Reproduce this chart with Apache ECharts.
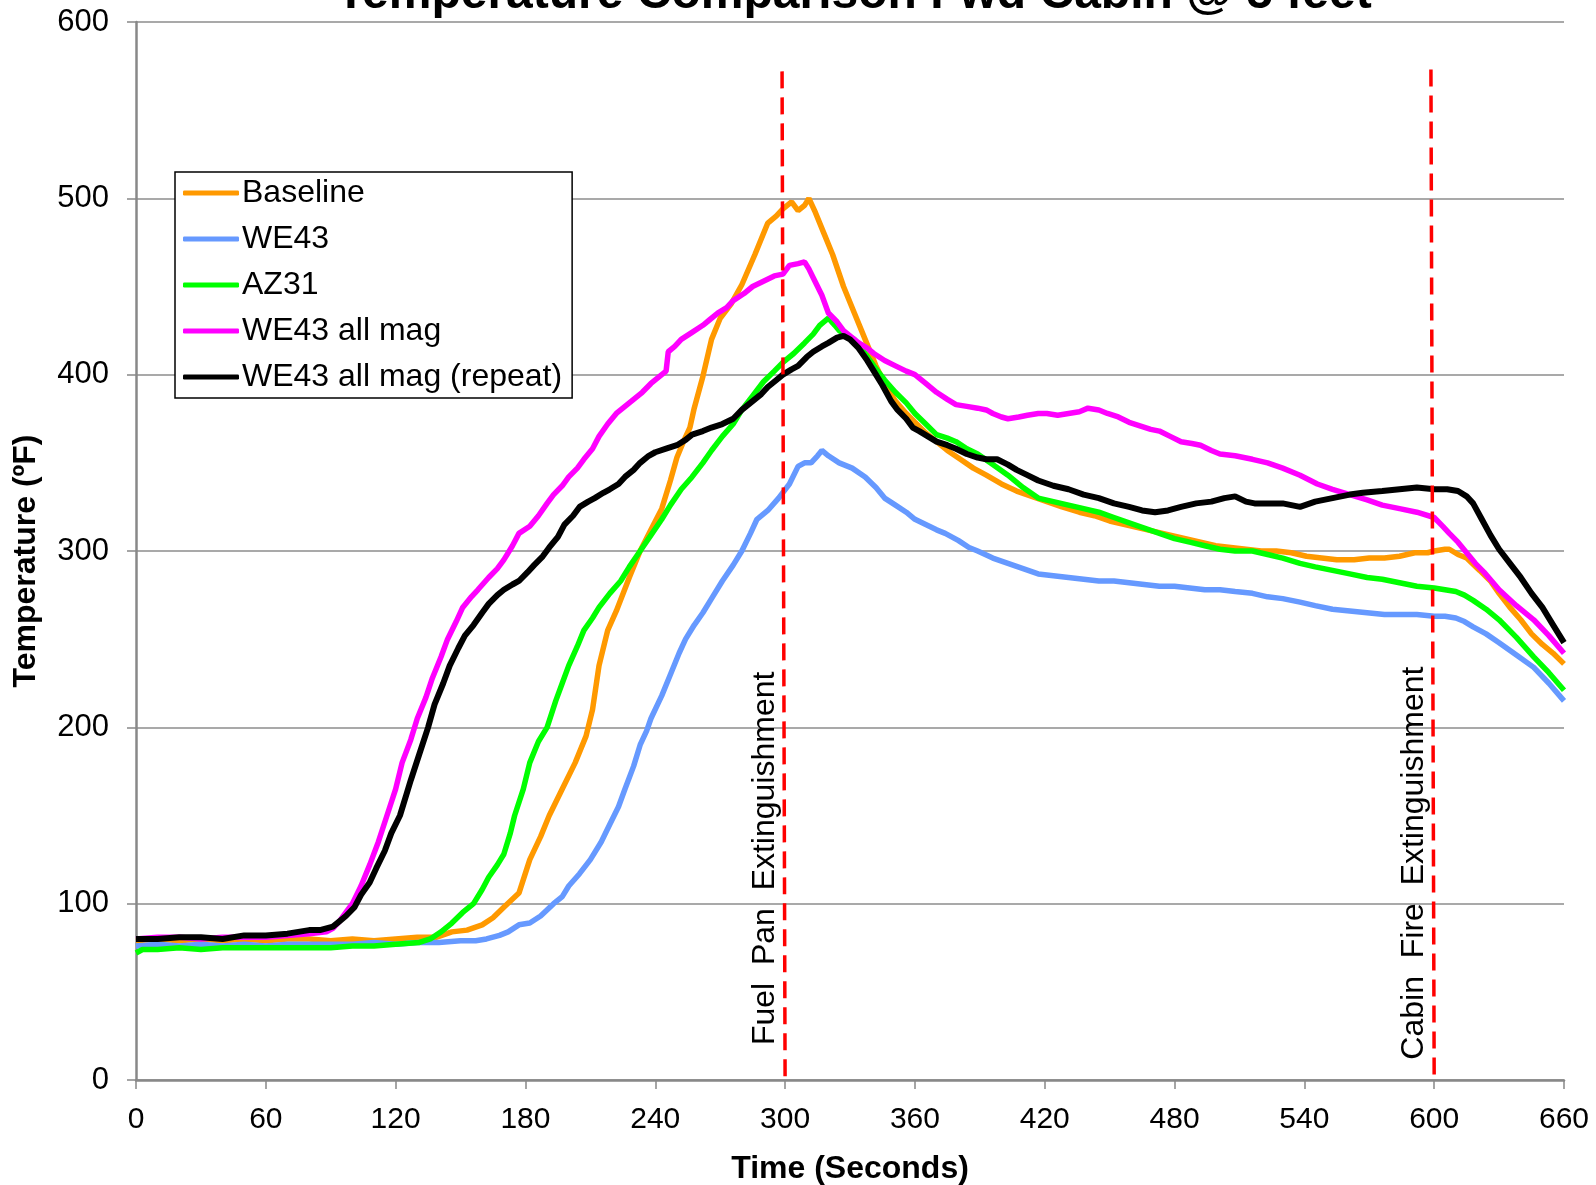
<!DOCTYPE html>
<html>
<head>
<meta charset="utf-8">
<script src="https://cdn.jsdelivr.net/npm/echarts@6/dist/echarts.min.js"></script>
<style>
  html, body { margin: 0; padding: 0; background: #fff; }
  #chart { width: 1596px; height: 1185px; }
</style>
</head>
<body>
<div id="chart"></div>
<script>
const FONT = '"Liberation Sans", Arial, sans-serif';

const seriesNames = ['Baseline', 'WE43', 'AZ31', 'WE43 all mag', 'WE43 all mag (repeat)'];
const seriesColors = ['#FF9900', '#6699FF', '#00FF00', '#FF00FF', '#000000'];

const timeTicks = { min: 0, max: 660, interval: 60 };
const tempTicks = { min: 0, max: 600, interval: 100 };

// [time (s), temperature (F)]
const baseline = [[0,79],[10,80],[20,79],[30,80],[40,79],[50,80],[60,79],[70,80],[80,80],[90,79],[100,80],[110,79],[120,80],[130,81],[139,81],[146,84],[153,85],[160,88],[165,92],[170,98],[177,106],[182,125],[187,138],[191,150],[197,165],[203,180],[208,195],[211,210],[214,235],[218,255],[222,266],[228,285],[233,300],[238,312],[243,324],[247,340],[250,353],[253,362],[256,370],[258,381],[262,399],[266,420],[270,432],[275,440],[280,451],[286,468],[292,486],[296,490],[299,494],[303,498],[306,493],[309,496],[311,500],[314,492],[318,480],[322,468],[327,450],[332,435],[337,420],[342,405],[346,395],[351,385],[356,378],[360,373],[365,367],[370,362],[375,357],[381,352],[387,347],[393,343],[400,338],[407,334],[414,331],[421,328],[428,325],[436,322],[443,320],[450,317],[457,315],[464,313],[471,311],[478,309],[485,307],[492,305],[499,303],[506,302],[513,301],[520,300],[527,300],[534,299],[541,297],[548,296],[555,295],[563,295],[570,296],[577,296],[584,297],[591,299],[597,299],[600,300],[605,301],[607,301],[611,298],[615,296],[621,289],[626,283],[630,276],[635,268],[640,261],[645,253],[650,247],[655,242],[660,236]];

const we43 = [[0,76],[10,77],[20,76],[30,77],[40,76],[50,77],[60,76],[70,77],[80,77],[90,77],[100,77],[110,78],[120,77],[130,78],[140,78],[150,79],[157,79],[162,80],[168,82],[172,84],[177,88],[182,89],[187,93],[193,100],[197,104],[200,110],[205,117],[210,125],[215,135],[219,145],[223,155],[226,165],[230,178],[233,190],[236,198],[238,205],[243,218],[247,230],[251,242],[254,250],[258,258],[262,265],[266,273],[271,283],[276,292],[280,300],[284,310],[287,318],[292,323],[297,330],[302,338],[306,348],[309,350],[312,350],[315,354],[317,357],[320,354],[325,350],[331,347],[337,342],[342,336],[346,330],[351,326],[356,322],[360,318],[365,315],[370,312],[374,310],[380,306],[385,302],[389,300],[396,296],[403,293],[410,290],[417,287],[424,286],[431,285],[438,284],[445,283],[452,283],[459,282],[466,281],[473,280],[480,280],[487,279],[494,278],[501,278],[508,277],[516,276],[523,274],[530,273],[538,271],[545,269],[553,267],[561,266],[569,265],[577,264],[584,264],[592,264],[600,263],[605,263],[610,262],[614,260],[618,257],[624,253],[630,248],[638,241],[646,234],[653,225],[660,215]];

const az31 = [[0,72],[3,74],[10,74],[20,75],[30,74],[40,75],[50,75],[60,75],[70,75],[80,75],[90,75],[100,76],[110,76],[120,77],[131,78],[136,80],[141,84],[146,89],[151,95],[156,100],[160,108],[163,115],[167,122],[170,128],[173,140],[175,150],[179,165],[182,180],[186,192],[190,200],[194,215],[197,225],[200,235],[204,246],[207,255],[211,262],[214,268],[219,276],[224,283],[228,291],[233,300],[238,309],[243,318],[247,326],[252,335],[257,342],[262,350],[266,357],[271,365],[276,372],[280,380],[285,388],[290,396],[295,402],[299,407],[304,412],[309,418],[313,423],[316,428],[320,432],[323,428],[325,425],[329,422],[332,420],[337,412],[341,405],[346,397],[351,390],[356,384],[360,378],[365,372],[370,366],[375,364],[379,362],[384,358],[389,355],[396,349],[403,343],[410,336],[417,330],[424,328],[431,326],[438,324],[445,322],[452,319],[459,316],[466,313],[473,310],[480,307],[487,305],[494,303],[501,301],[508,300],[516,300],[523,298],[530,296],[538,293],[545,291],[553,289],[561,287],[569,285],[576,284],[584,282],[592,280],[600,279],[605,278],[610,277],[614,275],[618,272],[624,267],[630,261],[638,251],[646,240],[653,231],[660,221]];

const we43AllMag = [[0,80],[10,81],[20,81],[30,80],[40,81],[50,81],[60,81],[70,82],[80,83],[88,84],[91,86],[94,90],[97,95],[100,100],[104,110],[108,122],[112,135],[116,150],[120,165],[123,180],[127,193],[130,205],[134,217],[137,228],[141,240],[144,250],[148,260],[151,268],[155,274],[158,278],[163,285],[167,290],[170,295],[174,303],[177,310],[182,314],[186,320],[190,327],[193,332],[197,337],[200,342],[204,347],[207,352],[211,358],[214,365],[218,372],[222,378],[226,382],[229,385],[234,390],[238,395],[242,399],[245,402],[246,413],[249,416],[252,420],[257,424],[262,428],[265,431],[269,435],[273,438],[276,442],[281,446],[285,450],[290,453],[295,456],[299,457],[302,462],[306,463],[309,464],[311,460],[313,455],[317,445],[320,435],[324,430],[327,425],[331,421],[334,418],[338,415],[341,412],[346,408],[351,405],[356,402],[360,400],[365,395],[370,390],[375,386],[379,383],[384,382],[389,381],[393,380],[396,378],[400,376],[403,375],[408,376],[412,377],[417,378],[421,378],[426,377],[431,378],[436,379],[440,381],[445,380],[449,378],[454,376],[459,373],[464,371],[469,369],[473,368],[478,365],[483,362],[488,361],[492,360],[497,357],[501,355],[508,354],[516,352],[523,350],[530,347],[538,343],[546,338],[553,335],[561,332],[569,329],[576,326],[584,324],[592,322],[600,319],[604,314],[607,310],[611,305],[615,299],[619,293],[623,288],[630,278],[638,269],[646,261],[653,252],[660,242]];

const we43AllMagRepeat = [[0,80],[10,80],[20,81],[30,81],[40,80],[50,82],[60,82],[70,83],[75,84],[80,85],[85,85],[91,87],[94,90],[97,93],[101,98],[104,105],[108,112],[111,120],[115,130],[118,140],[122,150],[125,162],[127,170],[131,185],[135,200],[138,213],[142,225],[145,235],[149,245],[152,252],[156,258],[160,265],[163,270],[167,275],[170,278],[174,281],[177,283],[181,288],[184,292],[188,297],[191,302],[195,308],[198,315],[202,320],[205,325],[209,328],[212,330],[216,333],[219,335],[223,338],[226,342],[230,346],[233,350],[237,354],[240,356],[245,358],[250,360],[254,363],[257,366],[262,368],[266,370],[271,372],[276,375],[280,380],[285,385],[289,389],[292,393],[296,397],[299,400],[303,403],[306,405],[310,410],[313,413],[317,416],[320,418],[324,421],[327,422],[330,420],[334,415],[338,408],[341,402],[345,394],[349,385],[352,380],[356,375],[359,370],[362,368],[366,365],[370,362],[375,360],[379,358],[384,355],[389,353],[393,352],[398,352],[403,349],[407,346],[412,343],[417,340],[424,337],[431,335],[438,332],[445,330],[452,327],[459,325],[465,323],[471,322],[477,323],[483,325],[490,327],[497,328],[503,330],[508,331],[513,328],[517,327],[523,327],[530,327],[538,325],[545,328],[553,330],[561,332],[567,333],[576,334],[584,335],[592,336],[600,335],[606,335],[611,334],[615,331],[618,327],[622,318],[626,309],[630,301],[635,293],[640,285],[645,276],[650,268],[655,258],[660,248]];

// red dashed event markers (top, bottom)
const fuelPanLine = [[298.6, 572], [300, 0]];
const cabinFireLine = [[598.5, 573], [600, 0]];
const eventLabels = [
  { text: 'Fuel  Pan  Extinguishment', at: [290.6, 125.7] },
  { text: 'Cabin  Fire  Extinguishment', at: [590.6, 123] }
];

const seriesData = [baseline, we43, az31, we43AllMag, we43AllMagRepeat];

const chart = echarts.init(document.getElementById('chart'));

const lineSeries = seriesData.map((d, i) => ({
  name: seriesNames[i],
  type: 'line',
  data: d,
  showSymbol: false,
  symbol: 'none',
  lineStyle: { color: seriesColors[i], width: i === 4 ? 6 : 5.5 },
  itemStyle: { color: seriesColors[i] },
  z: 2 + i
}));

const markerSeries = [fuelPanLine, cabinFireLine].map((d, i) => ({
  name: 'event' + i,
  type: 'line',
  data: d,
  symbol: 'none',
  clip: false,
  lineStyle: { color: '#FF0000', width: 3.5, type: [17, 9] },
  z: 10
}));

chart.setOption({
  animation: false,
  backgroundColor: '#fff',
  title: {
    text: 'Temperature Comparison Fwd Cabin @ 5 feet',
    left: 854,
    top: -29,
    padding: 0,
    textAlign: 'center',
    textStyle: { fontFamily: FONT, fontSize: 48, fontWeight: 'bold', color: '#000' }
  },
  grid: { left: 136, right: 32, top: 22, bottom: 105, outerBoundsMode: 'none', containLabel: false },
  legend: {
    data: seriesNames,
    orient: 'vertical',
    left: 175,
    top: 172,
    padding: [5, 10, 5, 8],
    itemGap: 14,
    itemWidth: 56,
    itemHeight: 5,
    icon: 'roundRect',
    backgroundColor: '#fff',
    borderColor: '#000',
    borderWidth: 1.5,
    borderRadius: 0,
    textStyle: { fontFamily: FONT, fontSize: 32, color: '#000', padding: [0, 0, 0, -2] }
  },
  xAxis: {
    type: 'value',
    min: timeTicks.min,
    max: timeTicks.max,
    interval: timeTicks.interval,
    name: 'Time (Seconds)',
    nameLocation: 'middle',
    nameGap: 73,
    nameTextStyle: { fontFamily: FONT, fontSize: 32, fontWeight: 'bold', color: '#000' },
    axisLine: { lineStyle: { color: '#888', width: 2.5 } },
    axisTick: { show: true, length: 9, lineStyle: { color: '#888', width: 1.5 } },
    axisLabel: { fontFamily: FONT, fontSize: 30, color: '#000', margin: 25 },
    splitLine: { show: false }
  },
  yAxis: {
    type: 'value',
    min: tempTicks.min,
    max: tempTicks.max,
    interval: tempTicks.interval,
    name: 'Temperature (ºF)',
    nameLocation: 'middle',
    nameRotate: 90,
    nameGap: 94,
    nameTextStyle: { fontFamily: FONT, fontSize: 32, fontWeight: 'bold', color: '#000', padding: [0, 20, 0, 0] },
    axisLine: { show: true, lineStyle: { color: '#888', width: 2.5 } },
    axisTick: { show: true, length: 9, lineStyle: { color: '#888', width: 1.5 } },
    axisLabel: { fontFamily: FONT, fontSize: 31, color: '#000', margin: 27 },
    splitLine: { show: true, lineStyle: { color: '#8c8c8c', width: 1.5 } }
  },
  series: lineSeries.concat(markerSeries)
});

// vertical event labels, positioned through the axes
chart.setOption({
  graphic: eventLabels.map(l => {
    const p = chart.convertToPixel({ gridIndex: 0 }, l.at);
    return {
      type: 'text',
      x: p[0],
      y: p[1],
      rotation: Math.PI / 2,
      z: 20,
      style: {
        text: l.text,
        font: '32px ' + FONT,
        fill: '#000',
        align: 'center',
        verticalAlign: 'middle'
      }
    };
  })
});
</script>
</body>
</html>
